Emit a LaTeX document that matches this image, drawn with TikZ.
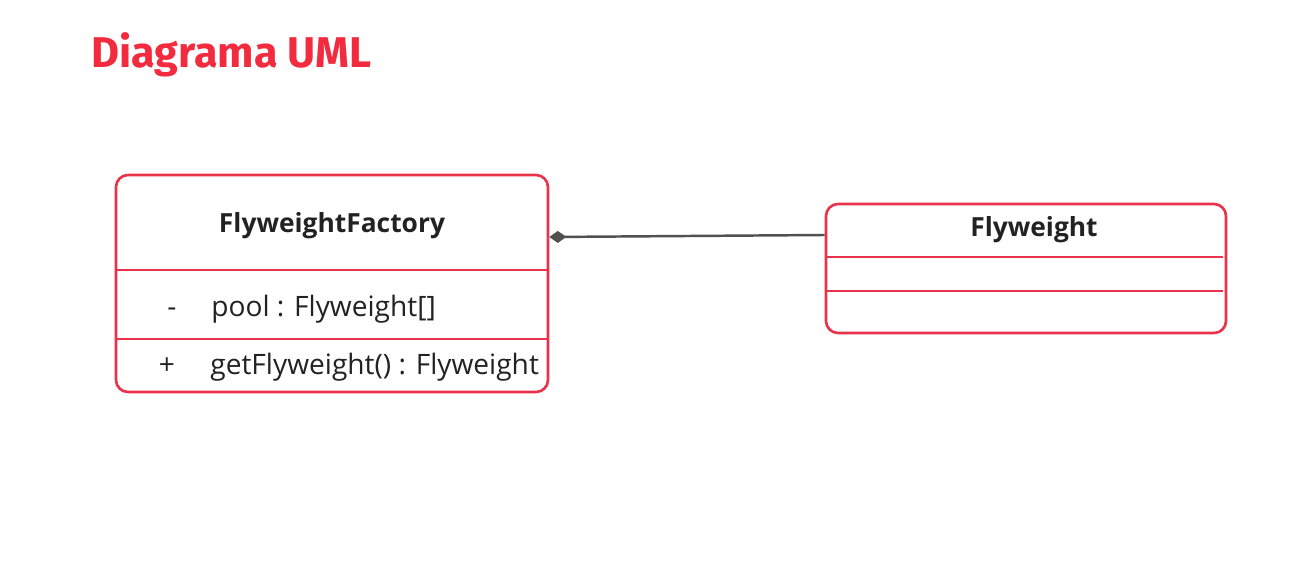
\documentclass[tikz,border=0pt]{standalone}
\usepackage{fontspec}
\setmainfont{Open Sans}
\newfontfamily\titlefont{Fira Sans}
\usetikzlibrary{arrows.meta}
\definecolor{umlred}{HTML}{E8334A}
\definecolor{titlered}{HTML}{F22B3F}
\definecolor{linkgray}{HTML}{505050}
\definecolor{inkdark}{HTML}{222222}
\tikzset{
  classbox/.style={draw=umlred, line width=1.5pt, rounded corners=2.4mm, inner sep=0pt},
  divider/.style={draw=umlred, line width=0.6pt},
  classname/.style={anchor=base, inner sep=0pt, text=inkdark, font=\bfseries\fontsize{15}{18}\selectfont},
  member/.style={anchor=base west, inner sep=0pt, text=inkdark, font=\fontsize{16}{19}\selectfont},
  link/.style={draw=linkgray, line width=1.4pt}
}
\begin{document}
\begin{tikzpicture}[x=0.2mm,y=-0.2mm]
  \useasboundingbox (0,0) rectangle (1303,565);
  % title
  \node [anchor=base west, inner sep=0pt, text=titlered, font=\titlefont\bfseries\fontsize{24.5}{28}\selectfont] (title) at (91,67) {Diagrama UML};
  % FlyweightFactory
  \node [classbox, minimum width=86.4mm, minimum height=43.4mm] (factory) at (332,283.5) {};
  \draw [divider] (factory.west |- 0,270) -- (factory.east |- 0,270);
  \draw [divider] (factory.west |- 0,339) -- (factory.east |- 0,339);
  \node [classname] (factoryname) at (332,232) {FlyweightFactory};
  \node [member, anchor=base] (poolsign) at (172,316) {-};
  \node [member] (pool) at (211,316) {pool : Flyweight[]};
  \node [member, anchor=base] (getsign) at (167,374) {+};
  \node [member] (get) at (210,374) {getFlyweight() : Flyweight};
  % Flyweight
  \node [classbox, minimum width=80mm, minimum height=25.8mm] (flyweight) at (1026,268.5) {};
  \draw [divider] (flyweight.west |- 0,257) -- ([xshift=-0.8mm]flyweight.east |- 0,257);
  \draw [divider] (flyweight.west |- 0,291) -- ([xshift=-0.8mm]flyweight.east |- 0,291);
  \node [classname] (flyweightname) at (1034,236) {Flyweight};
  % composition
  \draw [link, -{Diamond[length=3.4mm, width=2.4mm]}] (flyweight.west |- 0,235) -- (factory.east |- 0,237);
\end{tikzpicture}
\end{document}
